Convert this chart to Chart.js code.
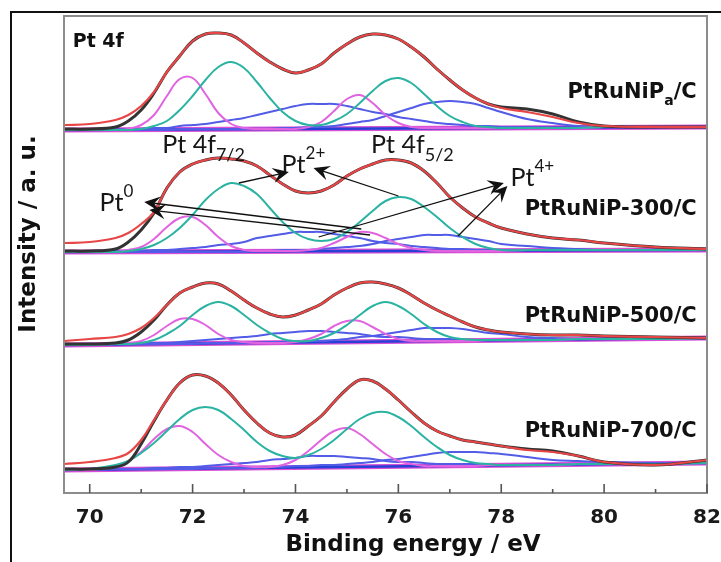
<!DOCTYPE html>
<html>
<head>
<meta charset="utf-8">
<title>Pt 4f XPS</title>
<script src="https://cdn.jsdelivr.net/npm/chart.js@4.4.1/dist/chart.umd.min.js"></script>
<style>
  html, body { margin: 0; padding: 0; background: #fff; }
  #wrap { width: 721px; height: 562px; }
</style>
</head>
<body>
<div id="wrap"><canvas id="xps" width="721" height="562"></canvas></div>
<script>
// binding energy grid (eV) shared by every curve
const energy = [69.5, 70, 70.5, 70.75, 71, 71.25, 71.5, 71.75, 72, 72.25, 72.5, 72.75, 73, 73.25, 73.5, 73.75,
  74, 74.25, 74.5, 74.75, 75, 75.25, 75.5, 75.75, 76, 76.25, 76.5, 76.75, 77, 77.25, 77.5, 77.75, 78, 78.5,
  79, 79.5, 80, 81, 82];
const tickEnergies = [70, 72, 74, 76, 78, 80, 82];
const minorEnergies = [71, 73, 75, 77, 79, 81];
const baseEnergy = [69.5, 82];

// vertical offset of each stacked spectrum (a.u.), top to bottom
const panelOffset = [363, 241, 148, 23];

// PtRuNiPa/C
const rawA  = [1, 1, 3, 9, 20, 37, 58, 74, 89, 96, 97, 95, 87, 77, 68, 61, 57, 60, 66, 77, 86, 93, 96, 95, 91, 83, 73, 61, 50, 40, 32, 26, 23, 21, 16, 8, 4, 3, 3];
const fitA  = [5, 6, 10, 15, 24, 38, 58, 74, 89, 96, 97, 95, 87, 77, 68, 61, 57, 60, 66, 77, 86, 93, 96, 95, 91, 83, 73, 61, 50, 40, 32, 26, 22, 18, 13, 7, 4, 3, 3];
const pt0A  = [0, 0, 0, 1, 5, 15, 34, 51, 52, 36, 17, 6, 2, 1, 1, 1, 1, 3, 8, 19, 31, 35, 27, 15, 7, 3, 2, 2, 2, 2, 2, 2, 2, 2, 2, 2, 3, 3, 3];
const pt2A  = [0, 0, 0, 0, 1, 4, 9, 20, 34, 50, 63, 68, 62, 48, 32, 18, 9, 5, 5, 9, 16, 27, 39, 49, 52, 47, 36, 24, 14, 8, 4, 3, 2, 2, 2, 2, 3, 3, 3];
const pt4aA = [0, 0, 0, 1, 1, 2, 2, 4, 5, 6, 8, 10, 12, 15, 18, 21, 24, 26, 26, 26, 24, 21, 18, 16, 13, 11, 9, 7, 6, 5, 4, 4, 3, 3, 2, 2, 3, 3, 3];
const pt4bA = [0, 0, 0, 0, 0, 0, 0, 1, 1, 1, 1, 1, 1, 1, 1, 2, 2, 3, 3, 4, 6, 8, 10, 14, 18, 22, 26, 28, 29, 28, 26, 22, 18, 11, 7, 4, 4, 3, 3];
const baseA = [0, 3];

// PtRuNiP-300/C
const rawB  = [1, 1, 3, 10, 22, 39, 64, 80, 88, 92, 94, 93, 91, 86, 77, 68, 61, 59, 61, 67, 76, 83, 88, 92, 92, 89, 81, 69, 55, 44, 35, 29, 24, 18, 14, 12, 9, 5, 3];
const fitB  = [9, 10, 14, 19, 28, 40, 64, 80, 88, 92, 94, 93, 91, 86, 77, 68, 61, 59, 61, 67, 76, 83, 88, 92, 92, 89, 81, 69, 55, 44, 35, 29, 24, 18, 14, 12, 9, 5, 3];
const pt0B  = [0, 0, 0, 2, 5, 13, 25, 34, 35, 27, 15, 6, 2, 1, 1, 1, 1, 2, 4, 9, 15, 20, 19, 14, 8, 4, 2, 1, 1, 1, 1, 1, 1, 2, 2, 2, 2, 2, 2];
const pt2B  = [0, 0, 0, 1, 3, 7, 14, 24, 37, 52, 63, 69, 66, 58, 44, 30, 19, 13, 11, 13, 20, 30, 41, 51, 55, 53, 45, 35, 24, 15, 8, 4, 2, 2, 2, 2, 2, 2, 2];
const pt4aB = [0, 0, 1, 1, 1, 2, 2, 3, 4, 5, 7, 8, 10, 14, 16, 18, 20, 20, 20, 18, 16, 14, 11, 9, 8, 6, 5, 4, 3, 3, 2, 2, 2, 2, 2, 2, 2, 2, 2];
const pt4bB = [0, 0, 0, 0, 0, 0, 0, 0, 0, 0, 0, 0, 0, 1, 1, 2, 2, 2, 3, 4, 5, 6, 8, 11, 13, 15, 17, 17, 17, 15, 13, 11, 8, 6, 4, 3, 2, 2, 2];
const baseB = [0, 2];

// PtRuNiP-500/C
const rawC  = [1, 1, 2, 5, 13, 25, 40, 52, 58, 62, 61, 54, 45, 37, 31, 28, 30, 35, 41, 50, 57, 62, 63, 61, 57, 50, 42, 35, 29, 23, 18, 15, 13, 11, 10, 10, 9, 8, 7];
const fitC  = [4, 6, 8, 11, 17, 27, 40, 52, 58, 62, 61, 54, 45, 37, 31, 28, 30, 35, 41, 50, 57, 62, 63, 61, 57, 50, 42, 35, 29, 23, 18, 15, 13, 11, 10, 10, 9, 8, 7];
const pt0C  = [0, 0, 1, 2, 4, 10, 19, 26, 26, 20, 11, 5, 3, 2, 2, 2, 3, 6, 11, 19, 24, 24, 18, 11, 6, 4, 4, 4, 4, 4, 4, 5, 5, 5, 5, 6, 6, 6, 7];
const pt2C  = [0, 0, 1, 1, 2, 5, 11, 19, 30, 39, 43, 39, 30, 20, 12, 6, 4, 4, 7, 12, 20, 30, 39, 43, 39, 31, 21, 13, 8, 6, 5, 5, 5, 5, 5, 6, 6, 6, 7];
const pt4aC = [0, 1, 1, 1, 2, 2, 2, 3, 4, 5, 6, 7, 8, 9, 11, 12, 13, 14, 14, 13, 12, 11, 9, 8, 8, 7, 6, 6, 6, 5, 5, 5, 5, 5, 5, 6, 6, 6, 7];
const pt4bC = [0, 0, 1, 1, 1, 1, 1, 1, 1, 2, 2, 2, 2, 2, 3, 3, 3, 4, 4, 5, 6, 8, 9, 11, 13, 15, 17, 17, 17, 16, 14, 12, 11, 8, 7, 6, 6, 6, 7];
const baseC = [0, 7];

// PtRuNiP-700/C
const rawD  = [1, 1, 3, 8, 26, 49, 70, 87, 95, 94, 87, 75, 60, 47, 37, 33, 35, 44, 54, 68, 81, 90, 89, 81, 70, 58, 47, 39, 34, 30, 28, 26, 24, 21, 19, 14, 8, 5, 10];
const fitD  = [6, 8, 12, 17, 30, 50, 70, 87, 95, 94, 87, 75, 60, 47, 37, 33, 35, 44, 54, 68, 81, 90, 89, 81, 70, 58, 47, 39, 34, 30, 28, 26, 24, 20, 18, 14, 8, 5, 10];
const pt0D  = [0, 0, 4, 9, 18, 31, 41, 44, 38, 26, 15, 8, 4, 3, 3, 5, 10, 19, 30, 39, 42, 36, 26, 16, 9, 6, 4, 4, 4, 4, 4, 5, 5, 5, 5, 6, 6, 6, 7];
const pt2D  = [0, 1, 5, 9, 17, 27, 39, 51, 60, 63, 60, 51, 40, 28, 19, 14, 12, 15, 21, 30, 41, 51, 57, 58, 53, 44, 33, 23, 15, 10, 7, 6, 5, 5, 5, 6, 6, 6, 7];
const pt4aD = [0, 0, 1, 1, 1, 2, 2, 3, 3, 4, 5, 6, 7, 8, 10, 11, 12, 14, 14, 14, 13, 12, 11, 9, 8, 8, 7, 6, 6, 6, 6, 5, 5, 5, 5, 6, 6, 6, 7];
const pt4bD = [0, 0, 1, 1, 1, 1, 1, 1, 1, 2, 2, 2, 2, 2, 3, 3, 4, 4, 5, 5, 6, 7, 8, 10, 11, 13, 15, 17, 18, 18, 18, 17, 16, 13, 10, 9, 8, 7, 7];
const baseD = [0, 7];

const spectra = [
  {raw: rawA, fit: fitA, pt0: pt0A, pt2: pt2A, pt4a: pt4aA, pt4b: pt4bA, base: baseA},
  {raw: rawB, fit: fitB, pt0: pt0B, pt2: pt2B, pt4a: pt4aB, pt4b: pt4bB, base: baseB},
  {raw: rawC, fit: fitC, pt0: pt0C, pt2: pt2C, pt4a: pt4aC, pt4b: pt4bC, base: baseC},
  {raw: rawD, fit: fitD, pt0: pt0D, pt2: pt2D, pt4a: pt4aD, pt4b: pt4bD, base: baseD}
];

// sample names (right aligned) and chemical state labels, in (eV, a.u.)
const sampleLabels = [
  {e: 81.8, v: 395, text: 'PtRuNiP', sub: 'a', tail: '/C'},
  {e: 81.8, v: 278, text: 'PtRuNiP-300/C'},
  {e: 81.8, v: 171, text: 'PtRuNiP-500/C'},
  {e: 81.8, v: 56, text: 'PtRuNiP-700/C'}
];
const stateLabels = [
  {e: 71.41, v: 340, text: 'Pt 4f', sub: '7/2'},
  {e: 75.47, v: 340, text: 'Pt 4f', sub: '5/2'},
  {e: 73.73, v: 320, text: 'Pt', sup: '2+'},
  {e: 70.19, v: 282, text: 'Pt', sup: '0'},
  {e: 78.18, v: 307, text: 'Pt', sup: '4+'}
];
// [tail eV, tail a.u., tip eV, tip a.u.]
const arrows = [
  [72.90, 310, 73.87, 321],
  [76.00, 297, 74.35, 325],
  [75.28, 264, 71.06, 291],
  [75.45, 258, 71.16, 283],
  [74.45, 256, 78.05, 310],
  [77.16, 257, 78.12, 307]
];

const curveStyle = {
  fit:  {color: '#e84646', width: 2.2, order: 0},
  raw:  {color: '#333333', width: 3.0, order: 1},
  pt2:  {color: '#2bb3a2', width: 2, order: 2},
  pt0:  {color: '#e064e0', width: 2, order: 3},
  pt4a: {color: '#525ce6', width: 2, order: 4},
  pt4b: {color: '#525ce6', width: 2, order: 4}
};

const datasets = [];
spectra.forEach((s, p) => {
  const off = panelOffset[p];
  Object.keys(curveStyle).forEach(k => {
    const st = curveStyle[k];
    datasets.push({
      data: s[k].map((v, i) => ({x: energy[i], y: off + v})),
      borderColor: st.color,
      borderWidth: st.width,
      order: st.order
    });
  });
  // linear background: magenta rim under the blue line
  datasets.push({
    data: s.base.map((v, i) => ({x: baseEnergy[i], y: off + v})),
    borderColor: '#2442d6', borderWidth: 2.6, order: 5
  });
  datasets.push({
    data: s.base.map((v, i) => ({x: baseEnergy[i], y: off + v})),
    borderColor: '#d94fd6', borderWidth: 5, order: 6
  });
});

function drawRich(ctx, parts, px, py, align) {
  let w = 0;
  parts.forEach(p => { ctx.font = p.font; w += ctx.measureText(p.t).width; });
  let cx = align === 'right' ? px - w : px;
  parts.forEach(p => {
    ctx.font = p.font;
    ctx.fillText(p.t, cx, py + (p.dy || 0));
    cx += ctx.measureText(p.t).width;
  });
}

function drawArrow(ctx, x0, y0, x1, y1) {
  const ang = Math.atan2(y1 - y0, x1 - x0);
  const len = 16, half = 7.5, notch = 10;
  const c = Math.cos(ang), s = Math.sin(ang);
  ctx.beginPath();
  ctx.moveTo(x0, y0);
  ctx.lineTo(x1 - notch * c, y1 - notch * s);
  ctx.stroke();
  ctx.beginPath();
  ctx.moveTo(x1, y1);
  ctx.lineTo(x1 - len * c + half * s, y1 - len * s - half * c);
  ctx.lineTo(x1 - notch * c, y1 - notch * s);
  ctx.lineTo(x1 - len * c - half * s, y1 - len * s + half * c);
  ctx.closePath();
  ctx.fill();
}

const decor = {
  id: 'decor',
  beforeDraw(chart) {
    const ctx = chart.ctx;
    ctx.save();
    ctx.fillStyle = '#fff';
    ctx.fillRect(0, 0, chart.width, chart.height);
    ctx.restore();
  },
  afterDraw(chart) {
    const {ctx, chartArea: a} = chart;
    const sx = chart.scales.x, sy = chart.scales.y;
    ctx.save();

    // outer figure frame
    ctx.strokeStyle = '#111';
    ctx.lineWidth = 2;
    ctx.beginPath();
    ctx.moveTo(11, 562); ctx.lineTo(11, 12); ctx.lineTo(721, 12);
    ctx.stroke();

    // plot box
    ctx.strokeStyle = '#8c8c8c';
    ctx.lineWidth = 2;
    ctx.strokeRect(a.left, a.top, a.right - a.left, a.bottom - a.top);

    // inward ticks on the energy axis
    ctx.strokeStyle = '#555';
    ctx.lineWidth = 1.6;
    const tick = (e, l) => {
      const px = sx.getPixelForValue(e);
      ctx.beginPath(); ctx.moveTo(px, a.bottom); ctx.lineTo(px, a.bottom - l); ctx.stroke();
    };
    tickEnergies.forEach(e => tick(e, 9));
    minorEnergies.forEach(e => tick(e, 4));

    // axis titles
    ctx.fillStyle = '#111';
    ctx.font = 'bold 23px "DejaVu Sans"';
    ctx.textAlign = 'center';
    ctx.textBaseline = 'alphabetic';
    ctx.fillText('Binding energy / eV', 413, 551);
    ctx.save();
    ctx.translate(35, 234);
    ctx.rotate(-Math.PI / 2);
    ctx.fillText('Intensity / a. u.', 0, 0);
    ctx.restore();
    ctx.textAlign = 'left';

    // core level tag
    ctx.font = 'bold 19px "DejaVu Sans"';
    ctx.fillText('Pt 4f', sx.getPixelForValue(69.67), sy.getPixelForValue(446));

    // sample names
    sampleLabels.forEach(l => {
      const big = 'bold 21px "DejaVu Sans"', small = 'bold 14px "DejaVu Sans"';
      const parts = [{t: l.text, font: big}];
      if (l.sub) parts.push({t: l.sub, font: small, dy: 7});
      if (l.tail) parts.push({t: l.tail, font: big});
      drawRich(ctx, parts, sx.getPixelForValue(l.e), sy.getPixelForValue(l.v), 'right');
    });

    // chemical state labels
    ctx.fillStyle = '#161616';
    stateLabels.forEach(l => {
      const parts = [{t: l.text, font: '25px Lato'}];
      if (l.sub) parts.push({t: l.sub, font: '18px Lato', dy: 8});
      if (l.sup) parts.push({t: l.sup, font: '17px Lato', dy: -14});
      drawRich(ctx, parts, sx.getPixelForValue(l.e), sy.getPixelForValue(l.v), 'left');
    });

    // arrows from components to their labels
    ctx.strokeStyle = '#111';
    ctx.fillStyle = '#111';
    ctx.lineWidth = 1.3;
    arrows.forEach(r => drawArrow(ctx,
      sx.getPixelForValue(r[0]), sy.getPixelForValue(r[1]),
      sx.getPixelForValue(r[2]), sy.getPixelForValue(r[3])));

    ctx.restore();
  }
};

new Chart(document.getElementById('xps'), {
  type: 'line',
  data: {datasets: datasets},
  options: {
    responsive: false,
    animation: false,
    devicePixelRatio: 1,
    layout: {padding: {left: 64, top: 16, right: 14, bottom: 0}},
    elements: {
      point: {radius: 0},
      line: {tension: 0.4, fill: false}
    },
    plugins: {legend: {display: false}, tooltip: {enabled: false}},
    scales: {
      x: {
        type: 'linear',
        min: 69.5,
        max: 82,
        afterBuildTicks: s => { s.ticks = tickEnergies.map(v => ({value: v})); },
        afterFit: s => {
          s.height = 69;
          // let the last label hang into the right margin
          s.paddingLeft = 0;
          s.paddingRight = 0;
        },
        grid: {display: false, drawTicks: false},
        border: {display: false},
        ticks: {
          padding: 13,
          color: '#1a1a1a',
          font: {family: '"DejaVu Sans"', size: 20, weight: 'bold'}
        }
      },
      y: {display: false, min: 0, max: 477}
    }
  },
  plugins: [decor]
});
</script>
</body>
</html>
